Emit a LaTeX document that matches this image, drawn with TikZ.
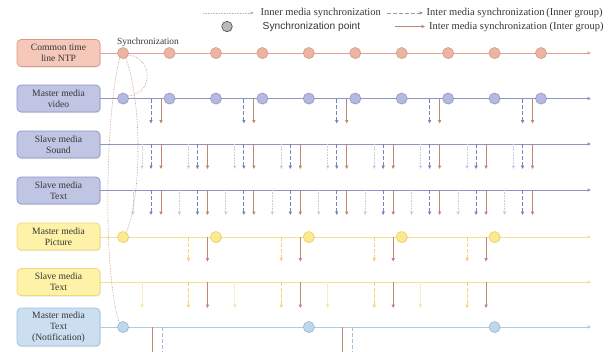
\documentclass[tikz,border=0pt]{standalone}
\usepackage{fontspec}
\setmainfont{Liberation Serif}
\setsansfont{Liberation Sans}
\usetikzlibrary{arrows.meta,shadows}

% palette
\definecolor{txt}{HTML}{363636}
\definecolor{ntpF}{HTML}{F5C8BA}
\definecolor{ntpD}{HTML}{D89A86}
\definecolor{ntpL}{HTML}{DFA593}
\definecolor{ntpC}{HTML}{EBB5A4}
\definecolor{bluF}{HTML}{BFC5E3}
\definecolor{bluD}{HTML}{8F97C9}
\definecolor{bluL}{HTML}{8D95C6}
\definecolor{bluC}{HTML}{B4BADF}
\definecolor{yelF}{HTML}{FEF1A8}
\definecolor{yelD}{HTML}{F5D77A}
\definecolor{yelL}{HTML}{F9DE8C}
\definecolor{yelC}{HTML}{FCEA8E}
\definecolor{yelCD}{HTML}{F0CF62}
\definecolor{lbF}{HTML}{CBDFF1}
\definecolor{lbD}{HTML}{A2C1DD}
\definecolor{lbL}{HTML}{B4CBDF}
\definecolor{lbC}{HTML}{C0D7EC}
\definecolor{lbCD}{HTML}{98B8D6}
\definecolor{arrBlue}{HTML}{7883BE}
\definecolor{arrBrown}{HTML}{BE8673}
\definecolor{arrDotB}{HTML}{C8CDE6}
\definecolor{arrYel}{HTML}{F6D26A}
\definecolor{arrDotY}{HTML}{FAE1A6}
\definecolor{arrLB}{HTML}{A3C0DB}
\definecolor{curveC}{HTML}{C88B79}
\definecolor{legGray}{HTML}{9A9A9A}

\tikzset{
  mediabox/.style={draw, rounded corners=4pt, minimum width=83pt, minimum height=27pt,
    inner sep=1pt, align=center, font=\fontsize{9.6}{11}\selectfont, text=txt,
    line width=0.7pt, drop shadow={shadow xshift=0.8pt, shadow yshift=-1pt, opacity=0.2}},
  syncpt/.style={circle, draw, line width=0.6pt, minimum size=11pt, inner sep=0pt,
    drop shadow={shadow xshift=0.6pt, shadow yshift=-0.6pt, opacity=0.25}},
  tip/.style={-{Triangle[length=3.5pt,width=3.2pt]}},
  rowline/.style={line width=0.9pt, tip},
  dn/.style={line width=0.8pt, tip},
  dashdn/.style={dn, dash pattern=on 4pt off 2pt},
  dotdn/.style={dn, dash pattern=on 0.7pt off 0.9pt},
  syncurve/.style={curveC, line width=0.6pt, dash pattern=on 0.6pt off 1pt},
  legtext/.style={anchor=west, inner sep=0pt, text=txt, font=\fontsize{10.5}{12}\selectfont},
}

\begin{document}
\begin{tikzpicture}[x=1pt,y=-1pt]
\useasboundingbox (0,0) rectangle (612,351);
\clip (0,0) rectangle (612,351);

% ---------- legend ----------
\coordinate (l1s) at (203,13); \coordinate (l1e) at (254,13);
\draw[dotdn, legGray!70] (l1s) -- (l1e);
\node[legtext] (l1t) at (260.5,13) {Inner media synchronization};
\coordinate (l2s) at (387,13); \coordinate (l2e) at (423,13);
\draw[dashdn, legGray] (l2s) -- (l2e);
\node[legtext] (l2t) at (426.5,13) {Inter media synchronization\,(Inner group)};
\node[syncpt, fill=gray!55, draw=black!70, minimum size=10.5pt] (l3c) at (227,26.5) {};
\node[legtext, font=\sffamily\fontsize{10.2}{12}\selectfont] (l3t) at (262.5,26.5) {Synchronization point};
\coordinate (l4s) at (395,26.5); \coordinate (l4e) at (425,26.5);
\draw[dn, arrBrown] (l4s) -- (l4e);
\node[legtext] (l4t) at (429,26.5) {Inter media synchronization (Inter group)};

% ---------- media boxes ----------
\node[mediabox, fill=ntpF, draw=ntpD] (b1) at (58.5,53) {Common time\\line NTP};
\node[mediabox, fill=bluF, draw=bluD] (b2) at (58.5,98.5) {Master media\\video};
\node[mediabox, fill=bluF, draw=bluD] (b3) at (58.5,144.5) {Slave media\\Sound};
\node[mediabox, fill=bluF, draw=bluD] (b4) at (58.5,190.5) {Slave media\\Text};
\node[mediabox, fill=yelF, draw=yelD] (b5) at (58.5,236.5) {Master media\\Picture};
\node[mediabox, fill=yelF, draw=yelD] (b6) at (58.5,282) {Slave media\\Text};
\node[mediabox, fill=lbF, draw=lbD, minimum height=38pt] (b7) at (58.5,327) {Master media\\Text\\(Notification)};

\node[font=\fontsize{9.4}{11}\selectfont, text=txt, inner sep=0pt] (synclabel) at (148,42) {Synchronization};

% ---------- time lines ----------
\coordinate (e1) at (591,53);
\coordinate (e2) at (591,98.5);
\coordinate (e3) at (591,144);
\coordinate (e4) at (591,190);
\coordinate (e5) at (591,237);
\coordinate (e6) at (591,282);
\coordinate (e7) at (591,327);
\draw[rowline, ntpL] (b1.east) -- (e1);
\draw[rowline, bluL] (b2.east) -- (e2);
\draw[rowline, bluL] (b3.east |- e3) -- (e3);
\draw[rowline, bluL] (b4.east |- e4) -- (e4);
\draw[rowline, yelL] (b5.east |- e5) -- (e5);
\draw[rowline, yelL] (b6.east) -- (e6);
\draw[rowline, lbL] (b7.east) -- (e7);

% ---------- downward synchronization arrows ----------
% master video
\foreach \k in {0,2,4,6,8} {
  \draw[dashdn, arrBlue] ({151+46.44*\k},98.5) -- ++(0,25);
  \draw[dn, arrBrown] ({161+46.44*\k},98.5) -- ++(0,25);
}
% slave sound
\foreach \k in {0,...,8} {
  \draw[dotdn, arrDotB] ({142+46.44*\k},144) -- ++(0,25);
  \draw[dashdn, arrBlue] ({151+46.44*\k},144) -- ++(0,25);
  \draw[dn, arrBrown] ({161+46.44*\k},144) -- ++(0,25);
}
% slave text (video group)
\foreach \k in {0,...,8} {
  \draw[dotdn, arrDotB] ({133+46.44*\k},190) -- ++(0,25);
  \draw[dashdn, arrBlue] ({151+46.44*\k},190) -- ++(0,25);
  \draw[dn, arrBrown] ({161+46.44*\k},190) -- ++(0,25);
}
% master picture
\foreach \k in {1,3,5,7} {
  \draw[dashdn, arrYel] ({142+46.44*\k},237) -- ++(0,24.5);
  \draw[dn, arrBrown] ({161+46.44*\k},237) -- ++(0,24.5);
}
% slave text (picture group)
\foreach \k in {0,2,4,6} {
  \draw[dotdn, arrDotY] ({142+46.44*\k},282) -- ++(0,26);
}
\foreach \k in {1,3,5,7} {
  \draw[dashdn, arrYel] ({142+46.44*\k},282) -- ++(0,26);
  \draw[dn, arrBrown] ({161+46.44*\k},282) -- ++(0,26);
}
% notification text
\foreach \x in {152,342} {
  \draw[dn, arrBrown] (\x,327) -- ++(0,30);
  \draw[dashdn, arrLB] ({\x+10},327) -- ++(0,30);
}

% ---------- synchronization points ----------
\foreach \k in {0,...,9} {
  \node[syncpt, fill=ntpC, draw=ntpD] (p1-\k) at ({123+46.44*\k},53) {};
  \node[syncpt, fill=bluC, draw=bluD] (p2-\k) at ({123+46.44*\k},98.5) {};
}
\foreach \k in {0,2,4,6,8} {
  \node[syncpt, fill=yelC, draw=yelCD] (p5-\k) at ({123+46.44*\k},237) {};
}
\foreach \k in {0,4,8} {
  \node[syncpt, fill=lbC, draw=lbCD] (p7-\k) at ({123+46.44*\k},327) {};
}

% ---------- synchronization curves ----------
\draw[syncurve] (p1-0.235) .. controls (106,110) and (102,270) .. (p7-0.130);
\draw[syncurve] (p1-0.300) .. controls (141,100) and (143,190) .. (p5-0.55);
\draw[syncurve] (p1-0.340) .. controls (151,57) and (156,92) .. (p2-0.25);

\end{tikzpicture}
\end{document}
